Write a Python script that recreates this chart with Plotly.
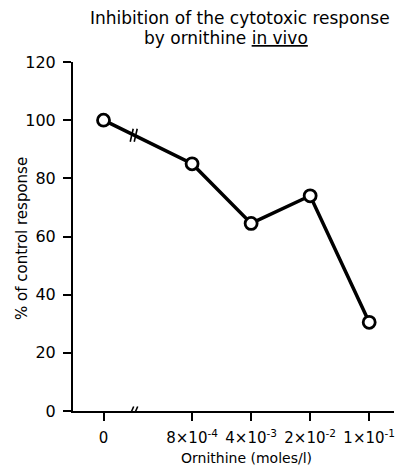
import plotly.graph_objects as go

# Data
dose_labels = ["0", "8×10<sup>-4</sup>", "4×10<sup>-3</sup>", "2×10<sup>-2</sup>", "1×10<sup>-1</sup>"]
response_pct = [100, 85, 64.5, 74, 30.5]
y_ticks = [0, 20, 40, 60, 80, 100, 120]

# x positions: control at 0, then an axis break before the equally spaced doses
BREAK_GAP = 0.5
xpos = [0] + [i + BREAK_GAP for i in range(1, len(dose_labels))]
break_x = 0.52

FONT = "DejaVu Sans"

fig = go.Figure()
fig.add_trace(go.Scatter(
    x=xpos, y=response_pct, mode="lines+markers",
    line=dict(color="black", width=3.5),
    marker=dict(symbol="circle", size=12, color="white",
                line=dict(color="black", width=2.8)),
    showlegend=False, hoverinfo="skip",
))

# break marks on the data line and on the x axis
y_on_line = response_pct[0] + (response_pct[1] - response_pct[0]) * (break_x - xpos[0]) / (xpos[1] - xpos[0])
shapes = []
for dx in (-2.5, 1.5):
    shapes.append(dict(type="line", xref="x", yref="y", xsizemode="pixel", ysizemode="pixel",
                       xanchor=break_x, yanchor=y_on_line,
                       x0=dx - 1.5, x1=dx + 1.5, y0=-6.5, y1=6.5,
                       line=dict(color="black", width=1.6)))
    shapes.append(dict(type="line", xref="x", yref="y", xsizemode="pixel", ysizemode="pixel",
                       xanchor=break_x, yanchor=0,
                       x0=dx - 2, x1=dx + 2, y0=-4.5, y1=4.5,
                       line=dict(color="black", width=1.6)))

annotations = [
    dict(text="Inhibition of the cytotoxic response", xref="paper", yref="paper",
         x=(240 - 73) / 321, y=1 + (62 - 18) / 349, xanchor="center", yanchor="middle",
         showarrow=False, font=dict(family=FONT, size=17, color="black")),
    dict(text="by ornithine <u>in vivo</u>", xref="paper", yref="paper",
         x=(226 - 73) / 321, y=1 + (62 - 38) / 349, xanchor="center", yanchor="middle",
         showarrow=False, font=dict(family=FONT, size=17, color="black")),
    dict(text="Ornithine (moles/l)", xref="paper", yref="paper",
         x=(247 - 73) / 321, y=-(458 - 411) / 349, xanchor="center", yanchor="middle",
         showarrow=False, font=dict(family=FONT, size=14, color="black")),
    dict(text="% of control response", xref="paper", yref="paper", textangle=-90,
         x=(22 - 73) / 321, y=(411 - 239) / 349, xanchor="center", yanchor="middle",
         showarrow=False, font=dict(family=FONT, size=15, color="black")),
]

fig.update_layout(
    width=397, height=467,
    margin=dict(l=73, r=3, t=62, b=56),
    paper_bgcolor="white", plot_bgcolor="white",
    font=dict(family=FONT, color="black"),
    shapes=shapes, annotations=annotations,
    xaxis=dict(range=[-0.517, 4.92], tickvals=xpos, ticktext=dose_labels,
               showgrid=False, zeroline=False, showline=True, linecolor="black", linewidth=2,
               ticks="outside", ticklen=8, tickwidth=1.5, tickcolor="black",
               tickfont=dict(family=FONT, size=15, color="black"), ticklabelstandoff=4),
    yaxis=dict(range=[0, 120], tickvals=y_ticks,
               showgrid=False, zeroline=False, showline=True, linecolor="black", linewidth=2,
               ticks="outside", ticklen=8, tickwidth=1.5, tickcolor="black",
               tickfont=dict(family=FONT, size=16, color="black"), ticklabelstandoff=4),
)

fig.write_html("out.html")
